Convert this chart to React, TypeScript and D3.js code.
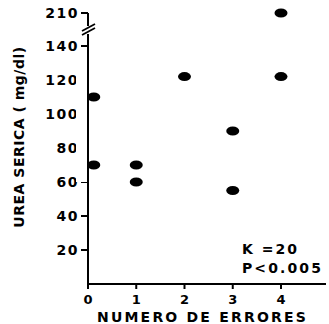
import React from 'react';
import * as d3 from 'd3';

// errores (x) vs urea serica (y)
const errores = [0.12, 0.12, 1, 1, 2, 3, 3, 4, 4];
const urea = [110, 70, 70, 60, 122, 90, 55, 210, 122];
const xTicks = [0, 1, 2, 3, 4];
const yTicks = [20, 40, 60, 80, 100, 120, 140, 210];

const W = 329, H = 324;
const font = 'DejaVu Sans, sans-serif';

export default function App() {
  const x = d3.scaleLinear().domain([0, 4]).range([88, 281]);
  // broken axis: 0-140 linear, then jump to 210
  const y = d3.scaleLinear().domain([0, 140, 210]).range([284, 46, 13]);
  const x0 = x(0), y0 = y(0);
  const brk = 30;

  return (
    <svg width={W} height={H} style={{ position: 'absolute', left: 0, top: 0, background: '#fff' }}>
      {/* y axis, in two parts round the break */}
      <line x1={x0} y1={y0} x2={x0} y2={brk + 4} stroke="#000" strokeWidth={2} />
      <line x1={x0} y1={brk - 4} x2={x0} y2={y(210)} stroke="#000" strokeWidth={2} />
      <line x1={x0 - 6} y1={brk + 5} x2={x0 + 7} y2={brk - 2} stroke="#000" strokeWidth={1.8} />
      <line x1={x0 - 6} y1={brk + 1} x2={x0 + 7} y2={brk - 6} stroke="#000" strokeWidth={1.8} />
      {yTicks.map(t => (
        <g key={t}>
          <line x1={x0 - 7} x2={x0} y1={y(t)} y2={y(t)} stroke="#000" strokeWidth={2} />
          <text x={x0 - 9} y={y(t)} dy="0.36em" textAnchor="end" fontFamily={font} fontWeight="bold"
            fontSize={14} letterSpacing={1.5}>{t}</text>
        </g>
      ))}
      {/* x axis */}
      <line x1={x0} y1={y0} x2={326} y2={y0} stroke="#000" strokeWidth={2} />
      {xTicks.map(t => (
        <g key={t}>
          <line x1={x(t)} x2={x(t)} y1={y0} y2={y0 + 5} stroke="#000" strokeWidth={2} />
          <text x={x(t)} y={y0 + 20} textAnchor="middle" fontFamily={font} fontWeight="bold"
            fontSize={13}>{t}</text>
        </g>
      ))}
      {errores.map((e, i) => (
        <ellipse key={i} cx={x(e)} cy={y(urea[i])} rx={6.5} ry={4.5} fill="#000" />
      ))}
      {/* hide the part of the points left of the axis */}
      <rect x={x0 - 12} y={y(130)} width={11} height={y(60) - y(130)} fill="#fff" />
      <line x1={x0} y1={y(130)} x2={x0} y2={y(60)} stroke="#000" strokeWidth={2} />
      <text transform={`translate(24,137) rotate(-90)`} textAnchor="middle"
        fontFamily={font} fontWeight="bold" fontSize={14} letterSpacing={0.5}>UREA SERICA ( mg/dl)</text>
      <text x={97} y={322} fontFamily={font} fontWeight="bold"
        fontSize={14} letterSpacing={2.2}>NUMERO DE ERRORES</text>
      <text x={242} y={254} fontFamily={font} fontWeight="bold" fontSize={14} letterSpacing={2}>K =20</text>
      <text x={242} y={273} fontFamily={font} fontWeight="bold" fontSize={14} letterSpacing={2.1}>P&lt;0.005</text>
    </svg>
  );
}
